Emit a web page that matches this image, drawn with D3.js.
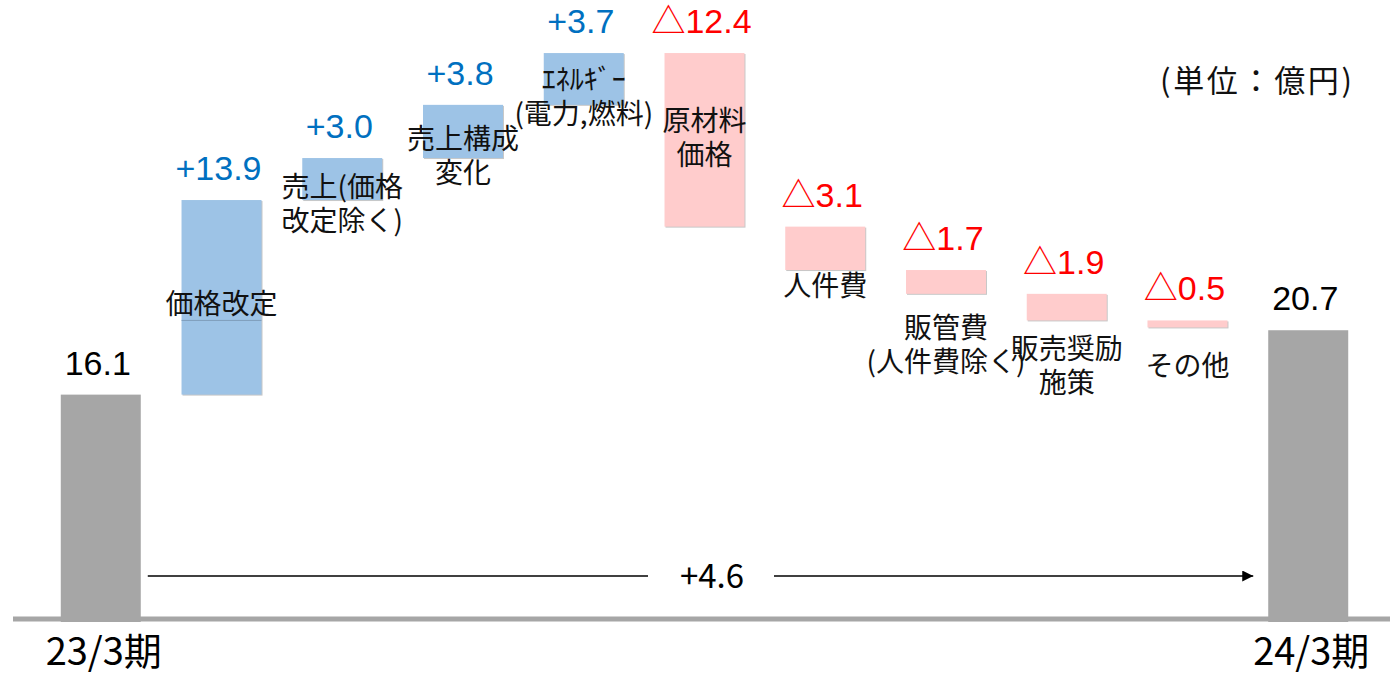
<!DOCTYPE html>
<html><head><meta charset="utf-8">
<script src="https://cdn.jsdelivr.net/npm/d3@7"></script>
<style>
html,body{margin:0;padding:0;background:#fff;}
svg{display:block;}
text{font-family:"Noto Sans CJK JP","Noto Sans",sans-serif;}
</style></head>
<body><svg id="chart" width="1390" height="674"></svg>
<script>
// ---- data ----
const categories = ["23/3期","価格改定","売上(価格改定除く)","売上構成変化","エネルギー(電力,燃料)","原材料価格","人件費","販管費(人件費除く)","販売奨励施策","その他","24/3期"];
const labelLines = [
  [], ["価格改定"], ["売上(価格","改定除く)"], ["売上構成","変化"], ["ｴﾈﾙｷﾞｰ","(電力,燃料)"],
  ["原材料","価格"], ["人件費"], ["販管費","(人件費除く)"], ["販売奨励","施策"], ["その他"], []
];
const startValue = 16.1;
const deltas = [13.9, 3.0, 3.8, 3.7, -12.4, -3.1, -1.7, -1.9, -0.5];
const endValue = 20.7;
const totalChange = 4.6;
const priceSplitLevel = 21.4;
const unitLabel = "(単位：億円)";

// ---- layout (not data) ----
const W = 1390, H = 674;
const labelOffset = [0, -81, -3, -9, -15, -96, 26, 44, 39, 49, 0]; // first-line baseline offset from bar bottom (px)
const lineH = 34;

const svg = d3.select("#chart");
const x = d3.scaleBand().domain(categories).range([40.4, 1368.6]).paddingInner(0.3375).paddingOuter(0.16875);
const y = d3.scaleLinear().domain([0, 44.29]).range([620, 0]);

// build waterfall rows
const rows = [];
rows.push({cat: categories[0], y0: 0, y1: startValue, type: "total", label: startValue.toFixed(1)});
let cum = startValue;
deltas.forEach((d, i) => {
  const a = cum, b = cum + d;
  rows.push({cat: categories[i+1], y0: Math.min(a,b), y1: Math.max(a,b), type: d >= 0 ? "up" : "down",
             label: (d >= 0 ? "+" : "△") + Math.abs(d).toFixed(1)});
  cum = b;
});
rows.push({cat: categories[10], y0: 0, y1: endValue, type: "total", label: endValue.toFixed(1)});

const fill = {total: "#A6A6A6", up: "#9DC3E6", down: "#FFCCCC"};
const textCol = {total: "#000", up: "#0070C0", down: "#FF0000"};

// baseline
svg.append("line").attr("x1", 13).attr("x2", W).attr("y1", y(0) - 1).attr("y2", y(0) - 1)
  .attr("stroke", "#A6A6A6").attr("stroke-width", 5);

// bar shadows (thin gray edge right/bottom for floating bars)
svg.selectAll("rect.shadow").data(rows.filter(r => r.type !== "total")).join("rect")
  .attr("x", d => x(d.cat) + 1).attr("y", d => y(d.y1) + 1)
  .attr("width", x.bandwidth()).attr("height", d => y(d.y0) - y(d.y1))
  .attr("fill", "#C8C8C8");

svg.selectAll("rect.bar").data(rows).join("rect")
  .attr("class", "bar")
  .attr("x", d => x(d.cat)).attr("y", d => y(d.y1))
  .attr("width", x.bandwidth())
  .attr("height", d => y(d.y0) - y(d.y1) + (d.type === "total" ? 2 : 0))
  .attr("fill", d => fill[d.type]);

// divider inside price revision bar
svg.append("line")
  .attr("x1", x(categories[1])).attr("x2", x(categories[1]) + x.bandwidth())
  .attr("y1", y(priceSplitLevel)).attr("y2", y(priceSplitLevel))
  .attr("stroke", "#7F9DBB").attr("stroke-width", 1);

// value labels
const vl = svg.selectAll("text.val").data(rows).join("text")
  .attr("class", "val")
  .attr("x", d => x(d.cat) + x.bandwidth() / 2 - 3)
  .attr("y", d => y(d.y1) - 20)
  .attr("text-anchor", "middle")
  .attr("fill", d => textCol[d.type])
  .attr("font-size", 34);
vl.each(function(d) {
  const t = d3.select(this);
  if (d.label.startsWith("△")) {
    t.append("tspan").text("△");
    t.append("tspan").attr("font-family", "Liberation Sans").text(d.label.slice(1));
  } else {
    t.append("tspan").attr("font-family", "Liberation Sans").text(d.label);
  }
});

// category labels
rows.forEach((r, i) => {
  const lines = labelLines[i];
  if (!lines.length) return;
  const t = svg.append("text")
    .attr("text-anchor", "middle").attr("font-size", 28).attr("fill", "#111");
  lines.forEach((ln, k) => {
    t.append("tspan").attr("x", x(r.cat) + x.bandwidth() / 2)
      .attr("y", y(r.y0) + labelOffset[i] + k * lineH).text(ln);
  });
});

// axis labels (period names)
svg.selectAll("text.period").data([categories[0], categories[10]]).join("text")
  .attr("class", "period")
  .attr("x", d => x(d) + x.bandwidth() / 2 + 3)
  .attr("y", 665)
  .attr("text-anchor", "middle").attr("font-size", 38).attr("fill", "#000")
  .text(d => d);

// total change arrow
const ax0 = x(categories[0]) + x.bandwidth() + 7;
const ax1 = x(categories[10]) - 15;
const ay = 576;
const mid = 712;
svg.append("defs").append("marker").attr("id", "ah")
  .attr("viewBox", "0 0 10 10").attr("refX", 10).attr("refY", 5)
  .attr("markerWidth", 12).attr("markerHeight", 11).attr("markerUnits", "userSpaceOnUse")
  .attr("orient", "auto")
  .append("path").attr("d", "M0,0L10,5L0,10Z").attr("fill", "#000");
svg.append("line").attr("x1", ax0).attr("x2", mid - 64).attr("y1", ay).attr("y2", ay)
  .attr("stroke", "#000").attr("stroke-width", 1.3);
svg.append("line").attr("x1", mid + 62).attr("x2", ax1).attr("y1", ay).attr("y2", ay)
  .attr("stroke", "#000").attr("stroke-width", 1.3).attr("marker-end", "url(#ah)");
svg.append("text").attr("x", mid).attr("y", 588).attr("text-anchor", "middle")
  .attr("font-size", 33).attr("font-family", "Liberation Sans").attr("fill", "#000")
  .text("+" + totalChange.toFixed(1));

// unit label
svg.append("text").attr("x", 1160).attr("y", 92)
  .attr("font-size", 31).attr("fill", "#111")
  .attr("textLength", 192).attr("lengthAdjust", "spacing").text(unitLabel);
</script></body></html>
